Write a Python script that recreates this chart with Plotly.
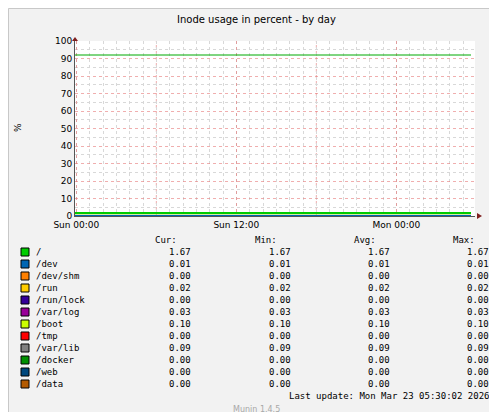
import plotly.graph_objects as go

times = [-0.1, 29.6]  # hours relative to Sun 00:00
names = ["/", "/dev", "/dev/shm", "/run", "/run/lock", "/var/log", "/boot", "/tmp", "/var/lib", "/docker", "/web", "/data"]
colors = ["#00CC00", "#0066B3", "#FF8000", "#FFCC00", "#330099", "#990099", "#CCFF00", "#FF0000", "#808080", "#008F00", "#00487D", "#B35A00"]
cur = [1.67, 0.01, 0.00, 0.02, 0.00, 0.03, 0.10, 0.00, 0.09, 0.00, 0.00, 0.00]
mins = [1.67, 0.01, 0.00, 0.02, 0.00, 0.03, 0.10, 0.00, 0.09, 0.00, 0.00, 0.00]
avgs = [1.67, 0.01, 0.00, 0.02, 0.00, 0.03, 0.10, 0.00, 0.09, 0.00, 0.00, 0.00]
maxs = [1.67, 0.01, 0.00, 0.02, 0.00, 0.03, 0.10, 0.00, 0.09, 0.00, 0.00, 0.00]
warning = 92
tick_vals = [0, 12, 24]
tick_text = ["Sun 00:00", "Sun 12:00", "Mon 00:00"]
red_lines = [6, 18]

W, H = 497, 412
L, R, T, B = 67, 467, 33, 208
def px(x, y):
    return (x - L) / (R - L), (B - y) / (B - T)

fig = go.Figure()
fig.add_trace(go.Scatter(x=times, y=[warning, warning], mode="lines",
                         line=dict(color="#00AA00", width=1), hoverinfo="skip"))
for n, c, v in reversed(list(zip(names, colors, cur))):
    fig.add_trace(go.Scatter(x=times, y=[v, v], mode="lines", name=n,
                             line=dict(color=c, width=2), hoverinfo="skip"))

mono = dict(family="DejaVu Sans Mono", size=9, color="#000")
ann = []
def text(x, y, s, anchor="left", font=mono, **kw):
    xp, yp = px(x, y)
    ann.append(dict(x=xp, y=yp, xref="paper", yref="paper", text=s, showarrow=False,
                    xanchor=anchor, yanchor="middle", font=font, **kw))

text(248, 12, "Inode usage in percent - by day", "center",
     font=dict(family="DejaVu Sans", size=10, color="#000"))
text(10, 120, "%", "center", font=dict(family="DejaVu Sans", size=9, color="#000"), textangle=-90)
text(490, 58, "RRDTOOL / TOBI OETIKER", "center", font=dict(family="DejaVu Sans", size=7, color="#A8A8A8"), textangle=90)
for hx, hs in [(171, "Cur:"), (271, "Min:"), (370, "Avg:"), (469, "Max:")]:
    text(hx, 232, hs, "right")
shapes = []
for i, n in enumerate(names):
    y = 244 + 12 * i
    x0, y0 = px(13, y - 4)
    x1, y1 = px(21, y + 4)
    shapes.append(dict(type="rect", xref="paper", yref="paper", x0=x0, x1=x1, y0=y0, y1=y1,
                       fillcolor=colors[i], line=dict(color="#000", width=1)))
    text(26, y, n)
    for xr, arr in [(185, cur), (285, mins), (384, avgs), (483, maxs)]:
        text(xr, y, f"{arr[i]:.2f}", "right")
text(483, 388, "Last update: Mon Mar 23 05:30:02 2026", "right")
text(248, 401, "Munin 1.4.5", "center", font=dict(family="DejaVu Sans", size=8, color="#A8A8A8"))

ax0, ay0 = px(67, 29)
shapes.append(dict(type="path", xref="paper", yref="paper",
                   path=f"M {px(64,33)[0]} {px(64,33)[1]} L {px(70,33)[0]} {px(70,33)[1]} L {ax0} {ay0} Z",
                   fillcolor="#7F1F1F", line=dict(width=0)))
shapes.append(dict(type="path", xref="paper", yref="paper",
                   path=f"M {px(469,205)[0]} {px(469,205)[1]} L {px(469,211)[0]} {px(469,211)[1]} L {px(474,208)[0]} {px(474,208)[1]} Z",
                   fillcolor="#7F1F1F", line=dict(width=0)))
shapes.append(dict(type="rect", xref="paper", yref="paper",
                   x0=px(0.5, 0)[0], x1=px(W - 1.5, 0)[0], y0=px(0, H - 1.5)[1], y1=px(0, 0.5)[1],
                   line=dict(color="#C8C8C8", width=1)))
shapes.append(dict(type="line", xref="paper", yref="paper",
                   x0=px(W - 1.5, 0)[0], x1=px(W - 1.5, 0)[0], y0=px(0, H)[1], y1=px(0, 0)[1],
                   line=dict(color="#999", width=2)))
shapes.append(dict(type="line", xref="paper", yref="paper",
                   x0=px(0, 0)[0], x1=px(W, 0)[0], y0=px(0, H - 1.5)[1], y1=px(0, H - 1.5)[1],
                   line=dict(color="#999", width=2)))

fig.update_layout(
    width=W, height=H, margin=dict(l=L, r=W - R, t=T, b=H - B),
    paper_bgcolor="#F2F2F2", plot_bgcolor="#FFFFFF", showlegend=False,
    annotations=ann, shapes=shapes,
    font=dict(family="DejaVu Sans", size=9, color="#000"),
)
fig.update_xaxes(range=[-0.1, 29.9], tickmode="array", tickvals=tick_vals, ticktext=tick_text,
                 showgrid=True, gridcolor="rgba(230,120,120,0.6)", griddash="dot", gridwidth=1,
                 minor=dict(dtick=1, tick0=0, showgrid=True, gridcolor="#D8D8D8", griddash="dot"),
                 showline=True, linecolor="#555", zeroline=False,
                 ticks="", fixedrange=True, tickfont=dict(size=9))
fig.update_yaxes(range=[0, 100], dtick=10, tick0=0,
                 showgrid=True, gridcolor="rgba(230,120,120,0.6)", griddash="dot",
                 minor=dict(dtick=5, showgrid=True, gridcolor="#D8D8D8", griddash="dot"),
                 showline=True, linecolor="#555", zeroline=False, ticks="", fixedrange=True,
                 tickfont=dict(size=9))
for h in red_lines:
    fig.add_shape(type="line", x0=h, x1=h, y0=0, y1=100, xref="x", yref="y",
                  line=dict(color="rgba(230,120,120,0.6)", width=1, dash="dot"), layer="below")
fig.write_html("out.html")
